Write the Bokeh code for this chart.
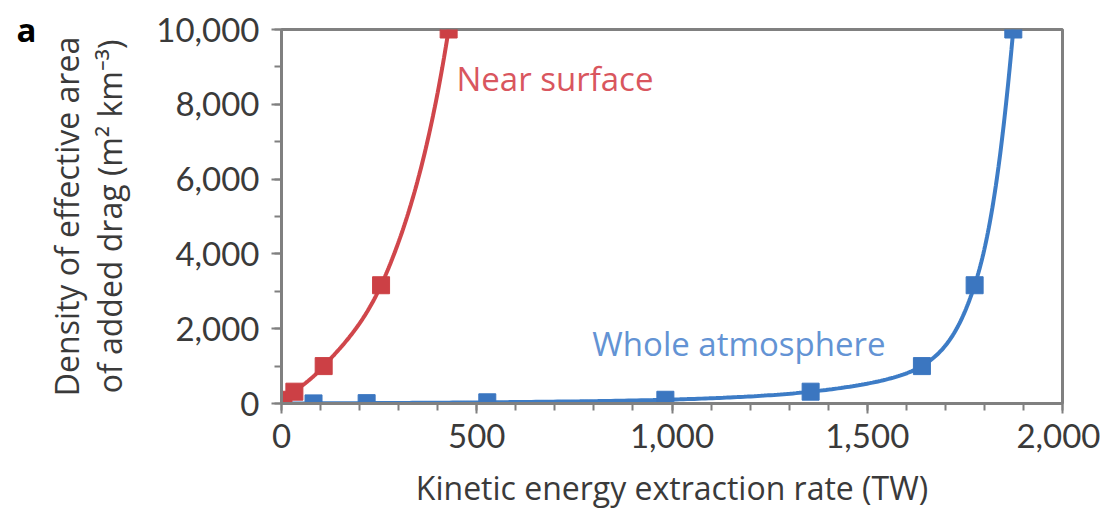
import numpy as np
from bokeh.plotting import figure
from bokeh.models import NumeralTickFormatter, Label, SingleIntervalTicker, LinearAxis, FixedTicker
from bokeh.embed import file_html
from bokeh.resources import INLINE

# ---- data ----
near_x = [5, 33, 108, 255, 428]
near_y = [100, 316, 1000, 3162, 10000]
whole_x = [82, 218, 527, 983, 1355, 1640, 1775, 1874]
whole_y = [3.16, 10, 31.6, 100, 316, 1000, 3162, 10000]
near_label = "Near surface"
whole_label = "Whole atmosphere"
panel_label = "a"

RED_LINE = "#d0464b"
RED_MARK = "#cc4045"
RED_TEXT = "#d9565e"
BLUE_LINE = "#3d7cc6"
BLUE_MARK = "#3b76c0"
BLUE_TEXT = "#6393d4"
FONT = "Open Sans"
TICK_FONT = "Lato"


def pchip(t, x, tt):
    t = np.asarray(t, float); x = np.asarray(x, float)
    h = np.diff(t); d = np.diff(x) / h
    n = len(t)
    m = np.zeros(n)
    m[0] = d[0]; m[-1] = d[-1]
    for k in range(1, n - 1):
        if d[k - 1] * d[k] <= 0:
            m[k] = 0
        else:
            w1 = 2 * h[k] + h[k - 1]; w2 = h[k] + 2 * h[k - 1]
            m[k] = (w1 + w2) / (w1 / d[k - 1] + w2 / d[k])
    out = np.empty_like(tt)
    for i, v in enumerate(tt):
        k = min(max(np.searchsorted(t, v) - 1, 0), n - 2)
        s = (v - t[k]) / h[k]
        h00 = 2 * s**3 - 3 * s**2 + 1; h10 = s**3 - 2 * s**2 + s
        h01 = -2 * s**3 + 3 * s**2; h11 = s**3 - s**2
        out[i] = h00 * x[k] + h10 * h[k] * m[k] + h01 * x[k + 1] + h11 * h[k] * m[k + 1]
    return out


def smooth(xs, ys):
    t = np.log10(ys)
    tt = np.linspace(t[0], t[-1], 300)
    return pchip(t, xs, tt), 10 ** tt


p = figure(width=1100, height=513, output_backend="svg", toolbar_location=None,
           x_range=(0, 2000), y_range=(0, 10000),
           min_border_left=281, min_border_right=38, min_border_top=29, min_border_bottom=110)
p.grid.visible = False
p.outline_line_color = "#808080"
p.outline_line_width = 3
p.background_fill_color = "white"

for ax in (p.xaxis[0], p.yaxis[0]):
    ax.axis_line_color = "#808080"
    ax.axis_line_width = 3
    ax.major_tick_line_color = "#808080"
    ax.minor_tick_line_color = "#808080"
    ax.major_tick_line_width = 2
    ax.minor_tick_line_width = 2
    ax.major_tick_in = 0
    ax.minor_tick_in = 0
    ax.major_tick_out = 10
    ax.minor_tick_out = 7
    ax.major_label_text_font = TICK_FONT
    ax.major_label_text_font_size = "33px"
    ax.major_label_text_color = "#3a3a3a"
    ax.axis_label_text_font = FONT
    ax.axis_label_text_font_size = "32px"
    ax.axis_label_text_font_style = "normal"
    ax.axis_label_text_color = "#3a3a3a"
    ax.formatter = NumeralTickFormatter(format="0,0")

p.xaxis.ticker = SingleIntervalTicker(interval=500, num_minor_ticks=5)
p.yaxis.ticker = SingleIntervalTicker(interval=2000, num_minor_ticks=2)
p.xaxis.major_label_standoff = 10
p.yaxis.major_label_standoff = 12
p.xaxis.axis_label_standoff = 15
p.xaxis.axis_label_text_line_height = 1.0
p.yaxis.axis_label_standoff = 22
p.yaxis.axis_label_text_line_height = 1.0
p.xaxis.axis_label = "Kinetic energy extraction rate (TW)"
p.yaxis.axis_label = "Density of effective area\nof added drag (m\u00b2 km\u207b\u00b3)"

# panel letter "a", drawn as the only tick label of an otherwise invisible outer axis
pa = LinearAxis(ticker=FixedTicker(ticks=[10000]), major_label_overrides={10000: panel_label})
pa.axis_line_color = None
pa.major_tick_line_color = None
pa.minor_tick_line_color = None
pa.major_tick_out = 0
pa.major_tick_in = 0
pa.major_label_standoff = 6
pa.major_label_text_font = FONT
pa.major_label_text_font_size = "33px"
pa.major_label_text_font_style = "bold"
pa.major_label_text_color = "black"
p.add_layout(pa, "left")

# curves
bx, by = smooth(whole_x, whole_y)
p.line(np.concatenate([[0], bx]), np.concatenate([[0], by]), line_color=BLUE_LINE, line_width=4)
rx, ry = smooth(near_x, near_y)
p.line(np.concatenate([[0], rx]), np.concatenate([[0], ry]), line_color=RED_LINE, line_width=4)

p.scatter(whole_x, whole_y, marker="square", size=17, fill_color=BLUE_MARK, line_color=BLUE_MARK)
p.scatter(near_x, near_y, marker="square", size=17, fill_color=RED_MARK, line_color=RED_MARK)

p.add_layout(Label(x=448, y=8690, text=near_label, text_color=RED_TEXT, text_font=FONT,
                   text_font_size="33px", text_baseline="middle"))
p.add_layout(Label(x=796, y=1604, text=whole_label, text_color=BLUE_TEXT, text_font=FONT,
                   text_font_size="33px", text_baseline="middle"))

open("out.html", "w").write(file_html(p, INLINE))
